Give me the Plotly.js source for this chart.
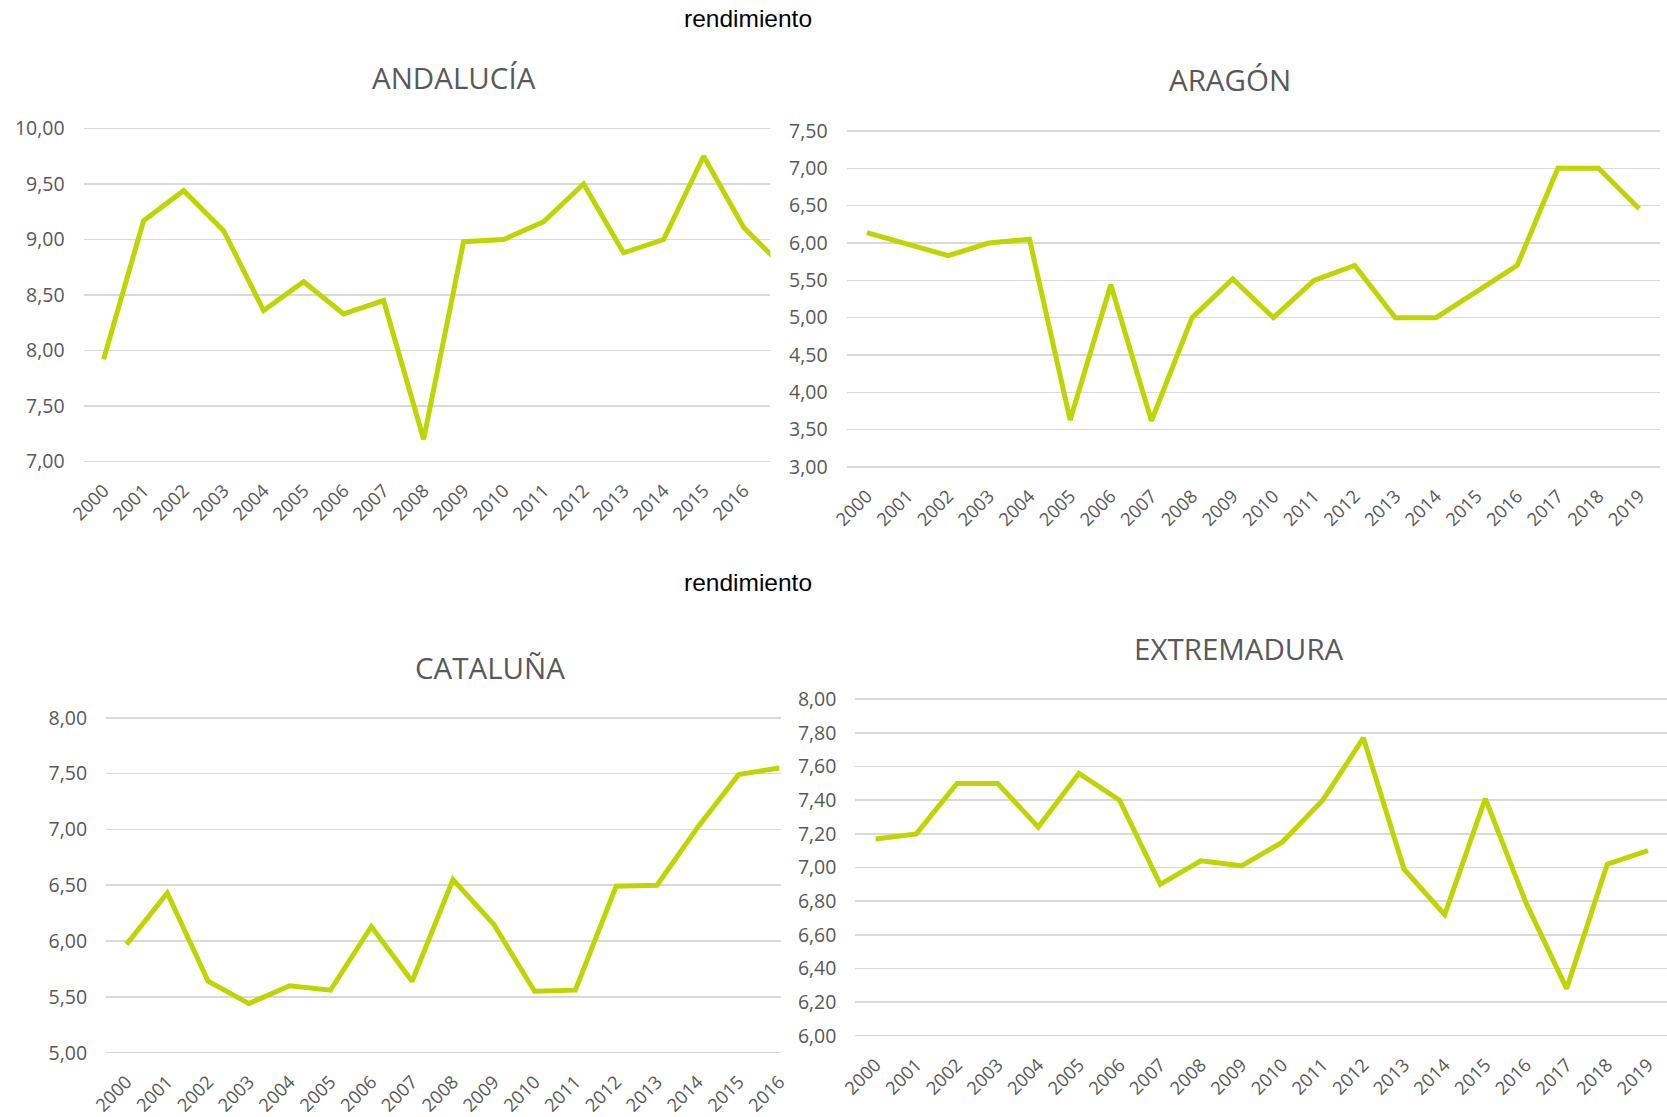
<!DOCTYPE html>
<html><head><meta charset="utf-8">
<script src="https://cdn.plot.ly/plotly-3.0.1.min.js"></script>
<style>html,body{margin:0;padding:0;background:#fff}</style>
</head><body>
<div id="chart" style="width:1667px;height:1117px"></div>
<script>
// ---- data ----
const years = [2000,2001,2002,2003,2004,2005,2006,2007,2008,2009,2010,2011,2012,2013,2014,2015,2016,2017,2018,2019];
const regionTitles = ['ANDALUCÍA','ARAGÓN','CATALUÑA','EXTREMADURA'];
const mainTitle = 'rendimiento';
const andalucia = [7.92,9.17,9.44,9.08,8.36,8.62,8.33,8.45,7.20,8.98,9.00,9.16,9.50,8.88,9.00,9.75,9.11,8.75];
const aragon = [6.14,5.98,5.83,6.00,6.05,3.63,5.44,3.62,5.00,5.52,5.00,5.50,5.70,5.00,5.00,5.35,5.70,7.00,7.00,6.46];
const cataluna = [5.97,6.43,5.64,5.44,5.60,5.56,6.13,5.64,6.55,6.15,5.55,5.56,6.49,6.50,7.02,7.49,7.55];
const extremadura = [7.17,7.20,7.50,7.50,7.24,7.56,7.40,6.90,7.04,7.01,7.15,7.40,7.77,6.99,6.72,7.41,6.79,6.28,7.02,7.10];

// ---- styling / layout helpers ----
const W = 1667, H = 1117;
const px = v => v / W;
const py = v => 1 - v / H;
const LINE = '#BED600';
const TXT = '#595959';
const yTickFont = {family: 'Open Sans, sans-serif', size: 19.5, color: TXT};
const xTickFont = {family: 'Open Sans, sans-serif', size: 18.3, color: TXT};
const PAD = 5; // px of extra room so edge gridlines are drawn

function line(vals, xa, ya) {
  return {x: years.slice(0, vals.length), y: vals, xaxis: xa, yaxis: ya, type: 'scatter', mode: 'lines',
          line: {color: LINE, width: 5}, hoverinfo: 'skip'};
}
function xAx(x0, x1, r1, anchor) {
  return {domain: [px(x0), px(x1)], range: [1999.5, r1], anchor: anchor,
          tickmode: 'array', tickvals: years, ticktext: years.map(String), tickangle: -45,
          showgrid: false, zeroline: false, showline: false, ticks: '', ticklabelstandoff: 9,
          tickfont: xTickFont, fixedrange: true};
}
function yAx(top, bottom, r0, r1, dt, anchor) {
  const upp = (r1 - r0) / (bottom - top);
  return {domain: [py(bottom + PAD), py(top - PAD)], range: [r0 - PAD * upp, r1 + PAD * upp], anchor: anchor,
          tick0: r0, dtick: dt, tickformat: '.2f', gridcolor: '#D9D9D9', gridwidth: 1.6,
          zeroline: false, showline: false, ticks: '', ticklabelstandoff: 18,
          tickfont: yTickFont, fixedrange: true};
}
const titleFont = {family: 'Open Sans, sans-serif', size: 29.5, color: TXT};
function ann(text, x, y, font) {
  return {text: text, xref: 'paper', yref: 'paper', x: px(x), y: py(y), xanchor: 'center', yanchor: 'middle',
          showarrow: false, font: font};
}
const mainFont = {family: 'Liberation Sans, Arial, sans-serif', size: 24.5, color: '#000000'};

const data = [
  line(andalucia, 'x', 'y'),
  line(aragon, 'x2', 'y2'),
  line(cataluna, 'x3', 'y3'),
  line(extremadura, 'x4', 'y4')
];

const layout = {
  width: W, height: H, margin: {l: 0, r: 0, t: 0, b: 0},
  paper_bgcolor: '#ffffff', plot_bgcolor: 'rgba(0,0,0,0)',
  showlegend: false, separators: ',.',
  xaxis: xAx(83.6, 770.4, 2016.67, 'y'),
  yaxis: yAx(128.5, 461.5, 7, 10, 0.5, 'x'),
  xaxis2: xAx(846.6, 1659.5, 2019.5, 'y2'),
  yaxis2: yAx(131, 467, 3, 7.5, 0.5, 'x2'),
  xaxis3: xAx(106.1, 780.6, 2016.03, 'y3'),
  yaxis3: yAx(717.7, 1052.7, 5, 8, 0.5, 'x3'),
  xaxis4: xAx(855.4, 1667, 2019.47, 'y4'),
  yaxis4: yAx(699.3, 1035.7, 6, 8, 0.2, 'x4'),
  annotations: [
    ann(mainTitle, 748, 19, mainFont),
    ann(mainTitle, 748, 582, mainFont),
    ann(regionTitles[0], 454, 77, titleFont),
    ann(regionTitles[1], 1229.5, 79, titleFont),
    ann(regionTitles[2], 489.8, 667, titleFont),
    ann(regionTitles[3], 1238.6, 648, titleFont)
  ]
};

Plotly.newPlot('chart', data, layout, {displayModeBar: false, staticPlot: true});
</script>
</body></html>
